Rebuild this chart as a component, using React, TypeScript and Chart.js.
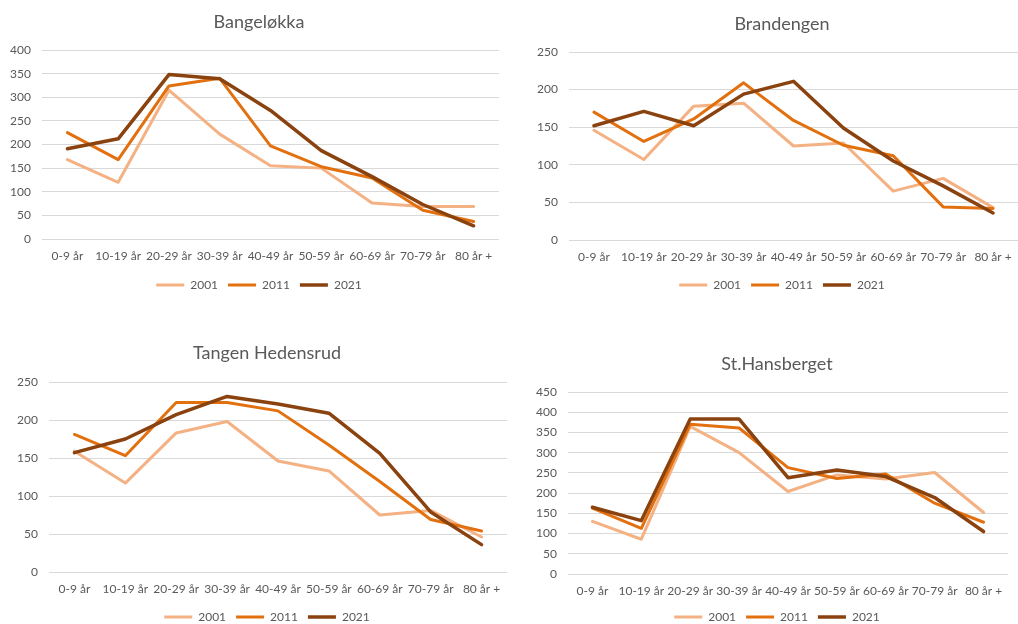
import React, { useEffect, useRef } from 'react';
import { Chart, registerables } from 'chart.js';

Chart.register(...registerables);

// ---------- data ----------
const AGE_GROUPS = ['0-9 år', '10-19 år', '20-29 år', '30-39 år', '40-49 år', '50-59 år', '60-69 år', '70-79 år', '80 år +'];
const YEARS = ['2001', '2011', '2021'];

const BANGELOKKA_2001 = [168, 120, 315, 222, 155, 150, 76, 69, 69];
const BANGELOKKA_2011 = [225, 168, 324, 340, 197, 153, 129, 61, 37];
const BANGELOKKA_2021 = [191, 212, 348, 339, 272, 187, 132, 73, 28];

const BRANDENGEN_2001 = [146, 107, 178, 182, 125, 129, 65, 82, 43];
const BRANDENGEN_2011 = [170, 131, 161, 209, 159, 126, 112, 44, 42];
const BRANDENGEN_2021 = [152, 171, 152, 194, 211, 149, 105, 72, 36];

const TANGEN_2001 = [159, 117, 183, 198, 146, 133, 75, 81, 46];
const TANGEN_2011 = [181, 153, 223, 223, 212, 167, 119, 69, 54];
const TANGEN_2021 = [157, 175, 207, 231, 221, 209, 156, 79, 36];

const HANSBERGET_2001 = [130, 86, 365, 300, 204, 245, 235, 251, 152];
const HANSBERGET_2011 = [163, 113, 370, 361, 263, 236, 247, 175, 128];
const HANSBERGET_2021 = [165, 132, 383, 383, 238, 257, 241, 189, 105];

const TITLES = ['Bangeløkka', 'Brandengen', 'Tangen Hedensrud', 'St.Hansberget'];
const Y_MAX = [400, 250, 250, 450];
const Y_STEP = 50;

const COLORS = ['#F4B183', '#E2700F', '#8A420F'];
const WIDTHS = [3, 3, 3.5];

const FONT = 'Lato, "Liberation Sans", sans-serif';
const TEXT = '#595959';

// ---------- layout ----------
type Panel = {
  title: string;
  series: number[][];
  yMax: number;
  box: { x: number; y: number; w: number; h: number };
  plot: { l: number; r: number; t: number; b: number };
  titleY: number;
  legendY: number;
};

const PANELS: Panel[] = [
  { title: TITLES[0], series: [BANGELOKKA_2001, BANGELOKKA_2011, BANGELOKKA_2021], yMax: Y_MAX[0],
    box: { x: 0, y: 0, w: 518, h: 315 }, plot: { l: 42, r: 499, t: 50, b: 239 }, titleY: 22, legendY: 285 },
  { title: TITLES[1], series: [BRANDENGEN_2001, BRANDENGEN_2011, BRANDENGEN_2021], yMax: Y_MAX[1],
    box: { x: 510, y: 0, w: 544, h: 315 }, plot: { l: 569, r: 1018, t: 52, b: 240 }, titleY: 24, legendY: 285 },
  { title: TITLES[2], series: [TANGEN_2001, TANGEN_2011, TANGEN_2021], yMax: Y_MAX[2],
    box: { x: 0, y: 318, w: 534, h: 320 }, plot: { l: 49, r: 507, t: 382, b: 572 }, titleY: 353, legendY: 617 },
  { title: TITLES[3], series: [HANSBERGET_2001, HANSBERGET_2011, HANSBERGET_2021], yMax: Y_MAX[3],
    box: { x: 510, y: 318, w: 534, h: 320 }, plot: { l: 568, r: 1008, t: 392, b: 574 }, titleY: 364, legendY: 617 },
];

const TITLE_SIZE = 18;
const TICK_SIZE = 12;
const LEGEND_SIZE = 12;
const LEGEND_PAD = 10;

function ChartPanel({ p }: { p: Panel }) {
  const ref = useRef<HTMLCanvasElement | null>(null);
  useEffect(() => {
    if (!ref.current) return;
    const lh = TITLE_SIZE * 1.2;
    const titleTop = p.titleY - p.box.y - lh / 2;
    const titleBottom = p.plot.t - p.titleY - lh / 2;
    const legendHeight = LEGEND_SIZE + LEGEND_PAD + 10;
    const legendTop = p.legendY - LEGEND_PAD - LEGEND_SIZE / 2;
    const padBottom = p.box.y + p.box.h - (legendTop + legendHeight);
    const xAxisHeight = legendTop - p.plot.b;
    const yAxisWidth = p.plot.l - p.box.x;
    const rightSpace = p.box.x + p.box.w - p.plot.r;

    const chart = new Chart(ref.current, {
      type: 'line',
      data: {
        labels: AGE_GROUPS,
        datasets: YEARS.map((yr, i) => ({
          label: yr,
          data: p.series[i],
          borderColor: COLORS[i],
          backgroundColor: COLORS[i],
          borderWidth: WIDTHS[i],
          pointRadius: 0,
          pointHoverRadius: 0,
          tension: 0,
          fill: false,
          order: 2 - i,
          yAxisID: 'y',
          borderJoinStyle: 'round' as const,
          borderCapStyle: 'round' as const,
        })),
      },
      options: {
        responsive: false,
        animation: false,
        devicePixelRatio: 1,
        layout: { padding: { left: 0, right: 0, top: 0, bottom: Math.max(0, padBottom) } },
        plugins: {
          tooltip: { enabled: false },
          title: {
            display: true,
            text: p.title,
            color: TEXT,
            font: { family: FONT, size: TITLE_SIZE, weight: 'normal' },
            padding: { top: titleTop, bottom: titleBottom },
          },
          legend: {
            display: true,
            position: 'bottom',
            labels: {
              color: TEXT,
              font: { family: FONT, size: LEGEND_SIZE },
              usePointStyle: true,
              pointStyle: 'line',
              pointStyleWidth: 28,
              padding: LEGEND_PAD,
              sort: (a: any, b: any) => a.datasetIndex - b.datasetIndex,
            },
          },
        },
        scales: {
          x: {
            type: 'category',
            offset: true,
            grid: { display: false, drawTicks: false, tickLength: 0 },
            border: { display: false },
            ticks: { color: TEXT, font: { family: FONT, size: TICK_SIZE }, padding: 10, maxRotation: 0, autoSkip: false },
            afterFit: (s: any) => { s.height = xAxisHeight; },
          },
          y: {
            type: 'linear',
            position: 'left',
            min: 0,
            max: p.yMax,
            grid: { color: '#D9D9D9', lineWidth: 1, drawTicks: false, tickLength: 0 },
            border: { display: false },
            ticks: { stepSize: Y_STEP, color: TEXT, font: { family: FONT, size: TICK_SIZE }, padding: 11 },
            afterFit: (s: any) => { s.width = yAxisWidth; },
          },
          spacer: {
            type: 'linear',
            position: 'right',
            display: true,
            min: 0,
            max: 1,
            grid: { display: false, drawTicks: false },
            border: { display: false },
            ticks: { display: false },
            afterFit: (s: any) => { s.width = rightSpace; },
          },
        },
      },
    });
    return () => chart.destroy();
  }, [p]);

  return (
    <canvas
      ref={ref}
      width={p.box.w}
      height={p.box.h}
      style={{ position: 'absolute', left: p.box.x, top: p.box.y, width: p.box.w, height: p.box.h }}
    />
  );
}

export default function App() {
  return (
    <div style={{ position: 'fixed', left: 0, top: 0, width: 1018, height: 624, overflow: 'hidden', background: '#ffffff' }}>
      {PANELS.map((p, i) => (
        <ChartPanel key={i} p={p} />
      ))}
    </div>
  );
}
